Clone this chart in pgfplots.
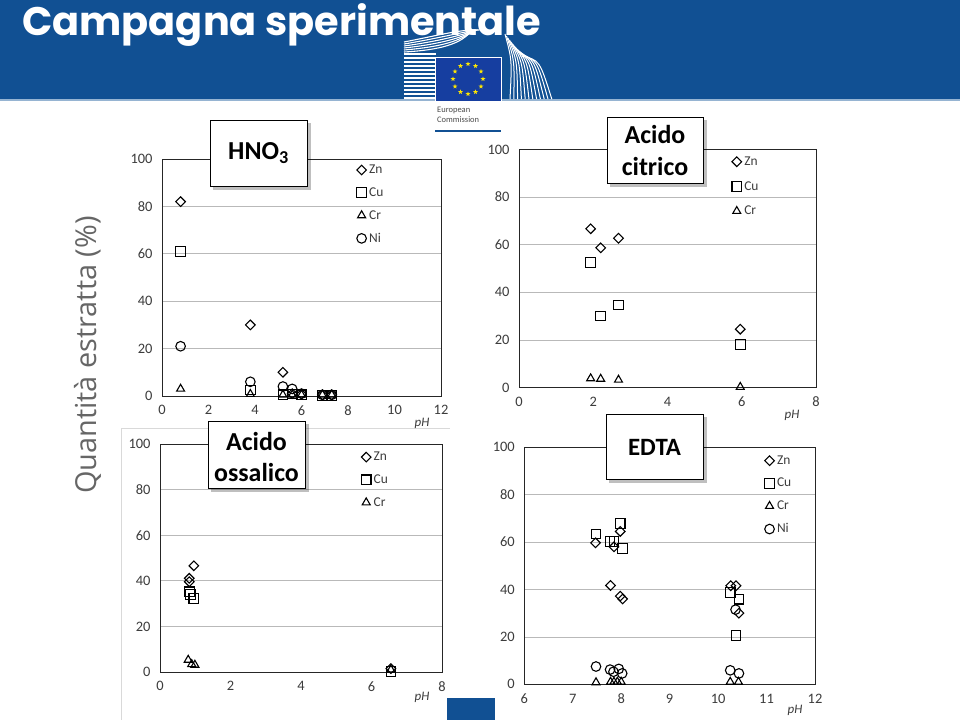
\documentclass[border=0pt]{standalone}
\usepackage{fontspec}
\usepackage{pgfplots}
\pgfplotsset{compat=1.18}
\usetikzlibrary{shapes.geometric}
\setmainfont{Carlito}
\newfontfamily\pop{Poppins}
\newfontfamily\osans{Open Sans}
\definecolor{ecblue}{RGB}{17,80,147}
\definecolor{flagblue}{RGB}{22,62,160}
\definecolor{ticktxt}{RGB}{60,60,60}
\definecolor{gridc}{RGB}{185,185,185}
\definecolor{bandline}{RGB}{150,180,210}

\pgfplotsset{
  panel/.style={scale only axis, anchor=south west, ymin=0, ymax=100,
    ytick={0,20,...,100}, ymajorgrids, grid style={gridc, line width=0.8bp},
    axis line style={black!85, line width=0.9bp}, major tick length=0pt,
    tick label style={font=\fontsize{14.5}{15}\selectfont, text=ticktxt},
    xticklabel style={yshift=-6bp}, yticklabel style={xshift=-6bp},
    /pgf/number format/assume math mode=true, clip=false,
    legend style={draw=none, fill=none, font=\fontsize{13.5}{14}\selectfont,
      text=ticktxt, row sep=10.5bp, column sep=0bp, inner sep=0pt,
      nodes={inner sep=1bp}},
    legend cell align=left,
    legend image code/.code={\path[draw=none, fill=none] (-5.5bp,-5.5bp) rectangle (6.5bp,5.5bp); \draw[##1] plot coordinates {(0bp,0bp)};},
  },
  zn/.style={only marks, mark=square, mark size=3.4bp, mark options={rotate=45, line width=1.1bp, draw=black, fill=none}},
  cu/.style={only marks, mark=square, mark size=4.8bp, mark options={line width=1.1bp, draw=black, fill=none}},
  cr/.style={only marks, mark=triangle, mark size=4.6bp, mark options={line width=1.1bp, draw=black, fill=none}},
  ni/.style={only marks, mark=o, mark size=4.8bp, mark options={line width=1.1bp, draw=black, fill=none}},
}

\begin{document}
\begin{tikzpicture}
\path[use as bounding box, fill=white] (0,0) rectangle (960bp,-720bp);

% ---------- HNO3 ----------
\begin{axis}[panel, at={(162bp,-396bp)}, width=279bp, height=237bp,
  xmin=0, xmax=12, xtick={0,2,...,12},
  legend style={at={(rel axis cs:0.695,0.98)}, anchor=north west}]
\addplot[zn] coordinates {(0.8,82) (3.8,30) (5.2,10) (5.6,1) (6.0,0.8) (6.9,0.5) (7.3,0.5)};
\addplot[cu] coordinates {(0.8,61) (3.8,2.5) (5.2,0.5) (5.6,0.8) (6.0,0.5) (6.9,0.3) (7.3,0.3)};
\addplot[cr] coordinates {(0.8,3) (3.8,0.8) (5.2,0.5) (5.6,0.5) (6.0,0.5) (6.9,0.5) (7.3,0.5)};
\addplot[ni] coordinates {(0.8,21) (3.8,6) (5.2,4) (5.6,3) (6.0,1) (6.9,0.5) (7.3,0.5)};
\legend{Zn,Cu,Cr,Ni}
\end{axis}

% ---------- Acido citrico ----------
\begin{axis}[panel, at={(519bp,-387.5bp)}, width=297bp, height=238bp,
  xmin=0, xmax=8, xtick={0,2,...,8},
  legend style={at={(rel axis cs:0.714,0.975)}, anchor=north west, row sep=12.5bp}]
\addplot[zn] coordinates {(1.93,66.7) (2.2,58.7) (2.68,62.7) (5.96,24.5)};
\addplot[cu] coordinates {(1.93,52.6) (2.2,30.1) (2.68,34.7) (5.96,18)};
\addplot[cr] coordinates {(1.93,3.8) (2.2,3.6) (2.68,3.2) (5.96,0.2)};
\legend{Zn,Cu,Cr}
\end{axis}

% ---------- Acido ossalico ----------
\begin{axis}[panel, at={(160bp,-672bp)}, width=282bp, height=228bp,
  xmin=0, xmax=8, xtick={0,2,...,8},
  legend style={at={(rel axis cs:0.711,0.97)}, anchor=north west}]
\addplot[zn] coordinates {(0.83,41.1) (0.83,39.6) (0.96,46.6) (6.55,1.5)};
\addplot[cu] coordinates {(0.83,35.2) (0.86,34.1) (0.96,32.3) (6.55,0.3)};
\addplot[cr] coordinates {(0.80,5.3) (0.90,3.4) (0.99,3.1) (6.55,1)};
\legend{Zn,Cu,Cr}
\end{axis}

% ---------- EDTA ----------
\begin{axis}[panel, at={(524.3bp,-684.3bp)}, width=290.7bp, height=237bp,
  xmin=6, xmax=12, xtick={6,7,...,12},
  legend style={at={(rel axis cs:0.824,0.97)}, anchor=north west}]
\addplot[zn] coordinates {(7.47,59.7) (7.78,41.7) (7.85,58) (7.98,64.5) (7.98,37.2) (8.03,36) (10.26,41.6) (10.37,41.6) (10.43,30)};
\addplot[cu] coordinates {(7.48,63.4) (7.77,60.3) (7.85,60.2) (7.98,67.8) (8.03,57.3) (10.25,38.8) (10.43,35.9) (10.37,20.5)};
\addplot[cr] coordinates {(7.48,0.8) (7.78,1) (7.85,1) (7.92,1) (8.0,1) (10.25,1) (10.42,1)};
\addplot[ni] coordinates {(7.48,7.5) (7.77,6.2) (7.84,5.3) (7.95,6.5) (8.02,4.6) (10.25,5.9) (10.36,31.5) (10.43,4.6)};
\legend{Zn,Cu,Cr,Ni}
\end{axis}

\begin{scope}[x=1bp, y=-1bp]
% header band
\fill[ecblue] (0,0) rectangle (960,100);
\draw[bandline, line width=1.5bp] (0,100) -- (960,100);
% title
\node[anchor=base west, text=white, inner sep=0] at (22,35) {\pop\bfseries\fontsize{40}{44}\selectfont Campagna sperimentale};
% EC logo: building stripes
\foreach \i in {0,...,11} \draw[white, line width=1.2bp] (404,98-4*\i) -- (436,98-4*\i);
\foreach \i in {0,...,5} \draw[white, line width=1.1bp] (404,52-2*\i) .. controls (440,50-3*\i) and (462,44-3*\i) .. (472+1.5*\i,30);
\foreach \i in {0,...,11} \draw[white, line width=1.0bp] (505+1.5*\i,34+2*\i) .. controls (512+2.5*\i,60) .. (510+3.8*\i,99);
% flag
\fill[flagblue] (435,57) rectangle (501,101);
\draw[white, line width=0.8bp] (435,57) rectangle (501,101);
\begin{scope}[shift={(468,79)}]
\foreach \a in {0,30,...,330} \node[star, star points=5, star point ratio=2.4, fill=yellow!90!orange, minimum size=5bp, inner sep=0] at (\a:15) {};
\end{scope}
\fill[white] (435,101) rectangle (501,132);
\fill[ecblue] (435,129.5) rectangle (501,132);
\node[anchor=west, inner sep=0, text=black!70, font=\fontsize{8.5}{9}\selectfont] at (437,110) {European};
\node[anchor=west, inner sep=0, text=black!70, font=\fontsize{8.5}{9}\selectfont] at (437,120) {Commission};

% side label
\node[rotate=90, text=black!60, inner sep=0] at (88,355) {\osans\fontsize{29}{30}\selectfont Quantità estratta (\%)};

% bottom blue block
\fill[ecblue] (447,698) rectangle (495,720);

% faint chart borders
\draw[black!15, line width=0.8bp] (121,428) -- (450,428);
\draw[black!15, line width=0.8bp] (121,428) -- (121,720);

% pH labels
\foreach \p in {(422,423),(792,415),(422,697),(795,710)}
  \node[text=ticktxt, font=\itshape\fontsize{13}{14}\selectfont] at \p {pH};

% title boxes
\fill[black, opacity=0.25] (213,123) rectangle (311,190);
\draw[fill=white, line width=1bp] (210,120) rectangle (307,186);
\node[font=\bfseries\fontsize{26}{30}\selectfont] at (258.5,153) {HNO\textsubscript{3}};

\fill[black, opacity=0.25] (610,120) rectangle (707,187);
\draw[fill=white, line width=1bp] (607,117) rectangle (703,183);
\node[font=\bfseries\fontsize{26}{30}\selectfont] at (655,135) {Acido};
\node[font=\bfseries\fontsize{26}{30}\selectfont] at (655,167) {citrico};

\fill[black, opacity=0.25] (211,424) rectangle (309,492);
\draw[fill=white, line width=1bp] (208,421) rectangle (305,488);
\node[font=\bfseries\fontsize{26}{30}\selectfont] at (256.5,442) {Acido};
\node[font=\bfseries\fontsize{26}{30}\selectfont] at (256.5,473) {ossalico};

\fill[black, opacity=0.25] (609,417) rectangle (707,483);
\draw[fill=white, line width=1bp] (606,414) rectangle (703,479);
\node[font=\bfseries\fontsize{25}{30}\selectfont] at (654.5,447) {EDTA};
\end{scope}
\end{tikzpicture}
\end{document}
